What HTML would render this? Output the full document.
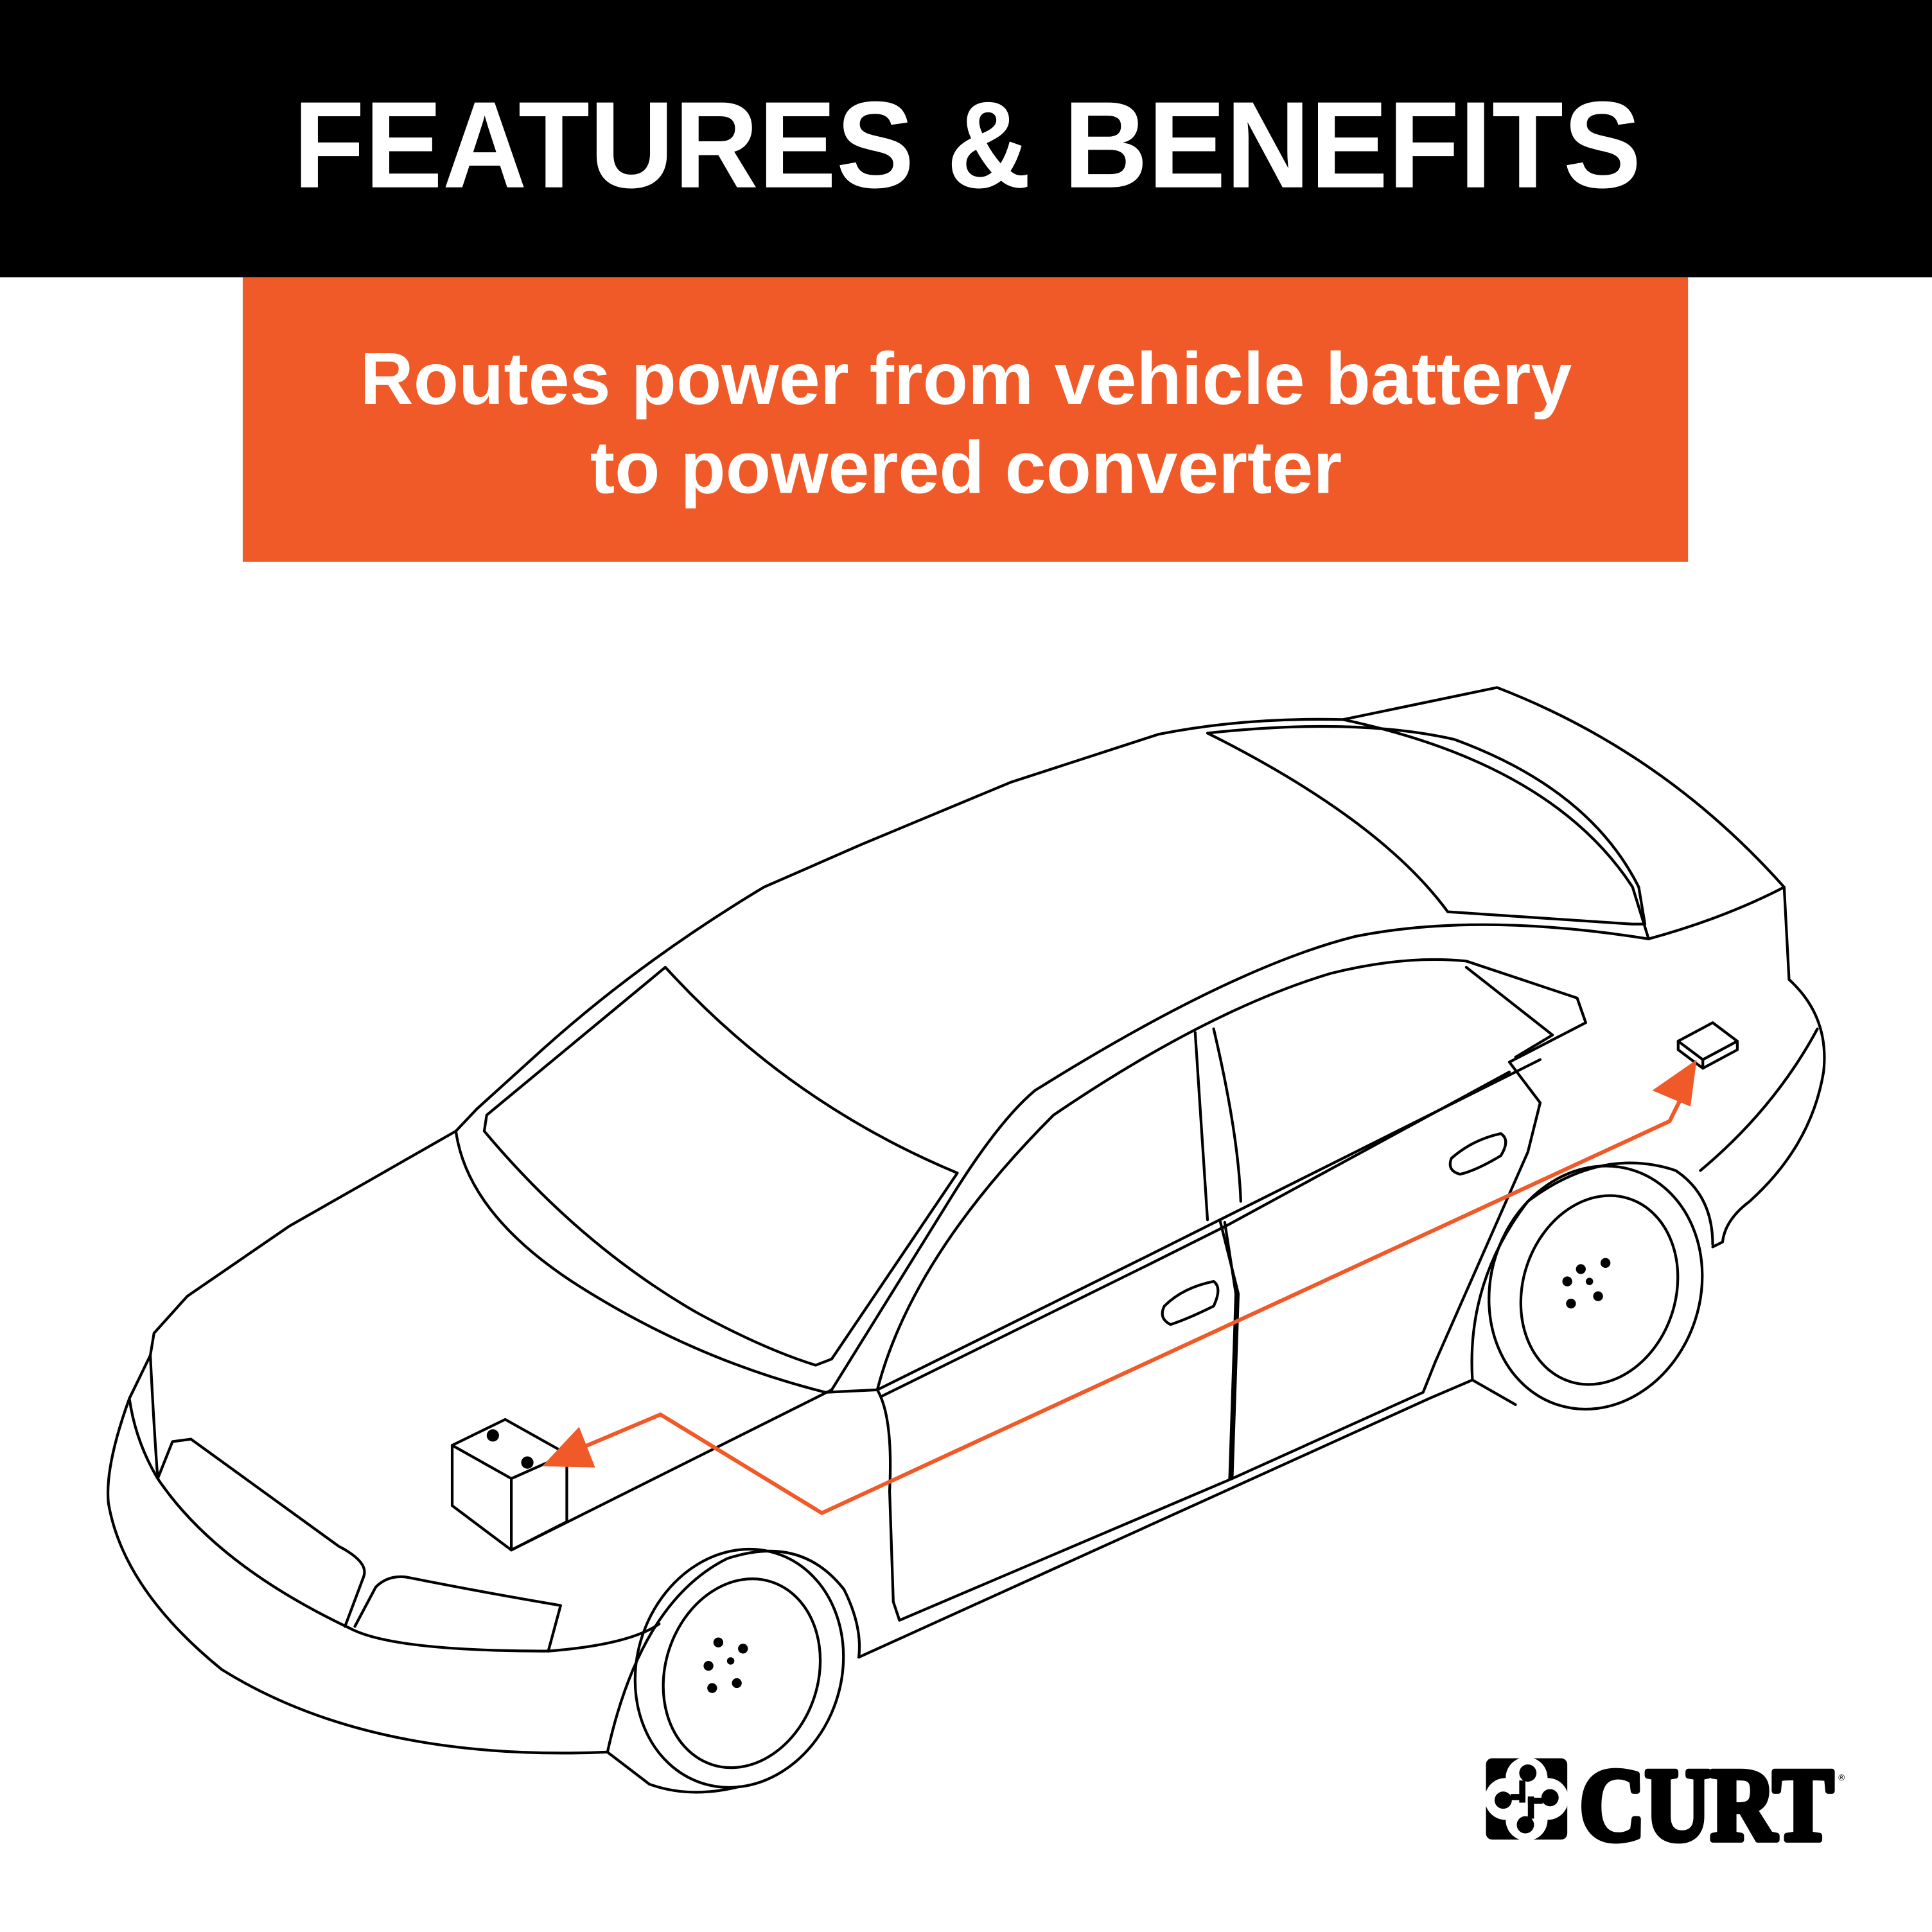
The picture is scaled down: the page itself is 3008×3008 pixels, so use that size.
<!DOCTYPE html>
<html><head><meta charset="utf-8"><style>
html,body{margin:0;padding:0;background:#fff;}
svg{display:block;}
</style></head><body>
<svg width="3008" height="3008" viewBox="0 0 1568 1568" xmlns="http://www.w3.org/2000/svg">
<rect x="0" y="0" width="1568" height="1568" fill="#fff"/>
<rect x="0" y="0" width="1568" height="225" fill="#000"/>
<text x="238" y="152" font-family="Liberation Sans, sans-serif" font-weight="bold" font-size="100" fill="#fff" textLength="1094" lengthAdjust="spacingAndGlyphs">FEATURES &amp; BENEFITS</text>
<rect x="197" y="225" width="1173" height="231" fill="#F05A28"/>
<text x="784" y="328" text-anchor="middle" font-family="Liberation Sans, sans-serif" font-weight="bold" font-size="60" fill="#fff">Routes power from vehicle battery</text>
<text x="784" y="400" text-anchor="middle" font-family="Liberation Sans, sans-serif" font-weight="bold" font-size="60" fill="#fff">to powered converter</text>

<g fill="none" stroke="#000" stroke-width="2.2" stroke-linejoin="round" stroke-linecap="round">
<path d="M387,900 L440,852 Q520,780 620,720 L700,685 L820,635 L940,596 Q1010,582 1090,584 L1215,558 Q1350,610 1448,720"/>
<path d="M980,595 Q1100,582 1180,600 Q1290,640 1330,720 L1335,750 L1325,750 L1175,740 Q1120,665 980,595 Z"/>
<path d="M1090,584 Q1260,620 1325,720 L1338,762 Q1400,745 1448,720 L1452,795 Q1485,825 1480,870 Q1470,930 1420,975 Q1400,990 1398,1008 L1390,1012"/>
<path d="M1475,835 Q1440,900 1380,950"/>
<path d="M370,918 Q380,990 480,1050 Q570,1105 670,1130 L712,1128"/>
<path d="M540,785 L395,905 L393,918 Q470,1010 565,1065 Q620,1095 662,1108 L675,1103 L777,952 Q640,895 540,785 Z"/>
<path d="M387,900 L370,918"/>
<path d="M370,918 L300,958 L235,995 L152,1052 L125,1082 L122,1100 L105,1135 Q85,1190 88,1220 Q100,1290 180,1355 Q300,1430 493,1422"/>
<path d="M122,1100 Q125,1160 128,1200 L140,1170 L155,1168 L275,1255 Q300,1268 295,1280 L280,1320"/>
<path d="M105,1135 Q110,1170 128,1200 Q175,1270 285,1322 Q320,1340 445,1340 Q510,1335 535,1318"/>
<path d="M288,1320 L305,1288 Q315,1278 330,1280 Q390,1292 455,1303 L445,1340"/>
<path d="M415,1258 L675,1128"/>
<path d="M675,1128 L770,975 Q810,910 840,885 Q1000,785 1100,760 Q1200,740 1338,762"/>
<path d="M712,1128 Q740,1020 855,905 Q980,820 1080,790 Q1140,775 1190,780 L1280,810 L1287,830 L1225,862"/>
<path d="M1190,785 L1260,840 L1230,858"/>
<path d="M712,1128 L930,1020 L990,990 L1250,860"/>
<path d="M716,1133 L935,1025 L995,995 L1225,870"/>
<path d="M970,838 L980,990"/>
<path d="M985,835 Q1005,920 1007,975"/>
<path d="M990,990 L1005,1050 L1000,1200"/>
<path d="M994,992 L1003,1050 L998,1200"/>
<path d="M945,1060 Q960,1045 985,1040 Q992,1045 985,1060 Q965,1070 950,1075 Q940,1070 945,1060 Z"/>
<path d="M1178,940 Q1195,925 1218,920 Q1226,925 1218,938 Q1198,950 1185,953 Q1174,950 1178,940 Z"/>
<path d="M712,1128 Q725,1150 722,1210 L725,1300 L730,1315 L1000,1200 L1155,1130 L1165,1105 L1240,935 L1250,895 L1225,862"/>
<path d="M697,1345 L1160,1135 L1195,1120 L1230,1140"/>
<path d="M493,1422 Q520,1300 590,1265 Q650,1245 685,1290 Q700,1320 697,1345"/>
<path d="M493,1422 L527,1448 Q560,1460 600,1450"/>
<ellipse cx="600" cy="1354" rx="83" ry="98" transform="rotate(18 600 1354)"/>
<ellipse cx="602" cy="1358" rx="62" ry="78" transform="rotate(18 602 1358)"/>
<path d="M1195,1120 Q1190,1040 1240,975 Q1300,930 1360,950 Q1390,970 1390,1010"/>
<ellipse cx="1295" cy="1045" rx="85" ry="100" transform="rotate(18 1295 1045)"/>
<ellipse cx="1298" cy="1047" rx="62" ry="78" transform="rotate(18 1298 1047)"/>
<path d="M367,1173 L410,1152 L460,1180 L415,1200 Z"/>
<path d="M367,1173 L367,1222 L415,1258 L415,1200"/>
<path d="M460,1180 L460,1235 L415,1258"/>
<path d="M1362,845 L1390,830 L1410,845 L1382,860 Z"/>
<path d="M1362,845 L1362,852 L1382,867 L1410,852 L1410,845"/>
<path d="M1382,860 L1382,867"/>
</g>
<g fill="#000">
<circle cx="400" cy="1165" r="5"/><circle cx="428" cy="1187" r="5"/>
<circle cx="583" cy="1333" r="4"/><circle cx="603" cy="1338" r="4"/><circle cx="575" cy="1352" r="4"/><circle cx="598" cy="1366" r="4"/><circle cx="578" cy="1370" r="4"/><circle cx="593" cy="1348" r="3"/>
<circle cx="1283" cy="1030" r="4"/><circle cx="1303" cy="1025" r="4"/><circle cx="1272" cy="1040" r="4"/><circle cx="1297" cy="1052" r="4"/><circle cx="1275" cy="1058" r="4"/><circle cx="1290" cy="1040" r="3"/>
</g>
<g stroke="#F05A28" stroke-width="3.2" fill="none" stroke-linejoin="round">
<path d="M1370,880 L1355,910 L667,1228 L536,1148 L465,1178"/>
</g>
<g fill="#F05A28">
<polygon points="440,1190 470,1158 483,1191"/>
<polygon points="1377,860 1341,885 1372,898"/>
</g>
<rect x="1206" y="1427" width="66" height="66" rx="5" fill="#000"/>
<g fill="#fff">
<circle cx="1239" cy="1443" r="17"/><circle cx="1239" cy="1477" r="17"/>
<circle cx="1222" cy="1460" r="17"/><circle cx="1256" cy="1460" r="17"/>
</g>
<g fill="#000">
<circle cx="1240" cy="1439" r="7"/><circle cx="1238" cy="1481" r="7"/>
<circle cx="1220" cy="1461" r="7"/><circle cx="1258" cy="1459" r="7"/>
<rect x="1233" y="1445" width="5" height="18"/><rect x="1240" y="1458" width="5" height="18"/>
<rect x="1226" y="1456" width="12" height="5"/><rect x="1240" y="1459" width="12" height="5"/>
</g>
<text x="1282" y="1493" font-family="Liberation Serif, serif" font-weight="bold" font-size="84" fill="#000" stroke="#000" stroke-width="5" stroke-linejoin="round" textLength="206" lengthAdjust="spacingAndGlyphs">CURT</text>
<text x="1492" y="1445" font-family="Liberation Sans, sans-serif" font-size="7" fill="#000">®</text>
</svg>
</body></html>
